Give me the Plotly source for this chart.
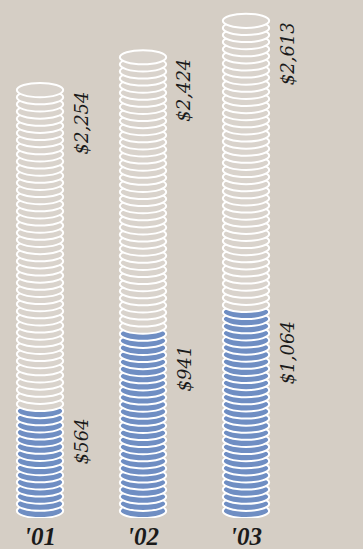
import plotly.graph_objects as go

# ---- data ----
years = ["'01", "'02", "'03"]
totals = [2254, 2424, 2613]
blue_vals = [564, 941, 1064]
total_labels = ["$2,254", "$2,424", "$2,613"]
blue_labels = ["$564", "$941", "$1,064"]

# ---- style ----
BG = "#d5cec5"
BLUE = "#6f8ec3"
LIGHT = "#d9d3cc"
COIN_VALUE = 37.5      # value represented by one coin
HALF_W = 0.225         # coin half width in x units

fig = go.Figure()
fig.add_trace(go.Scatter(x=[0, 1, 2], y=totals, mode="markers",
                         marker=dict(opacity=0), hoverinfo="skip",
                         showlegend=False))

shapes = []
for xi, (tot, b) in enumerate(zip(totals, blue_vals)):
    n = round(tot / COIN_VALUE)
    s = tot / (n + 1)
    nb = round(b / s)
    for i in range(n):
        shapes.append(dict(
            type="circle", xref="x", yref="y", layer="above",
            x0=xi - HALF_W, x1=xi + HALF_W, y0=i * s, y1=i * s + 2 * s,
            fillcolor=BLUE if i < nb else LIGHT,
            line=dict(color="white", width=2)))

annotations = []
for xi in range(len(years)):
    for val, lab in ((totals[xi], total_labels[xi]), (blue_vals[xi], blue_labels[xi])):
        annotations.append(dict(
            x=xi, y=val, xref="x", yref="y", text=lab, textangle=-90,
            showarrow=False, xanchor="center", yanchor="top",
            xshift=41, yshift=-7,
            font=dict(family="DejaVu Serif", size=18, color="#1a1a1a",
                      style="italic")))

fig.update_layout(
    width=363, height=549, autosize=False,
    margin=dict(l=0, r=0, t=0, b=31),
    paper_bgcolor=BG, plot_bgcolor=BG,
    shapes=shapes, annotations=annotations,
    showlegend=False,
    xaxis=dict(range=[-40 / 103, 323 / 103], showgrid=False, zeroline=False,
               showline=False, tickvals=[0, 1, 2], ticktext=years, ticks="",
               ticklabelstandoff=1,
               tickfont=dict(family="Liberation Serif", size=25, color="#1a1a1a",
                             style="italic", weight="bold"),
               fixedrange=True),
    yaxis=dict(range=[0, 518 / 0.193], showgrid=False, zeroline=False,
               showline=False, showticklabels=False, fixedrange=True),
)

fig.write_html("out.html")
